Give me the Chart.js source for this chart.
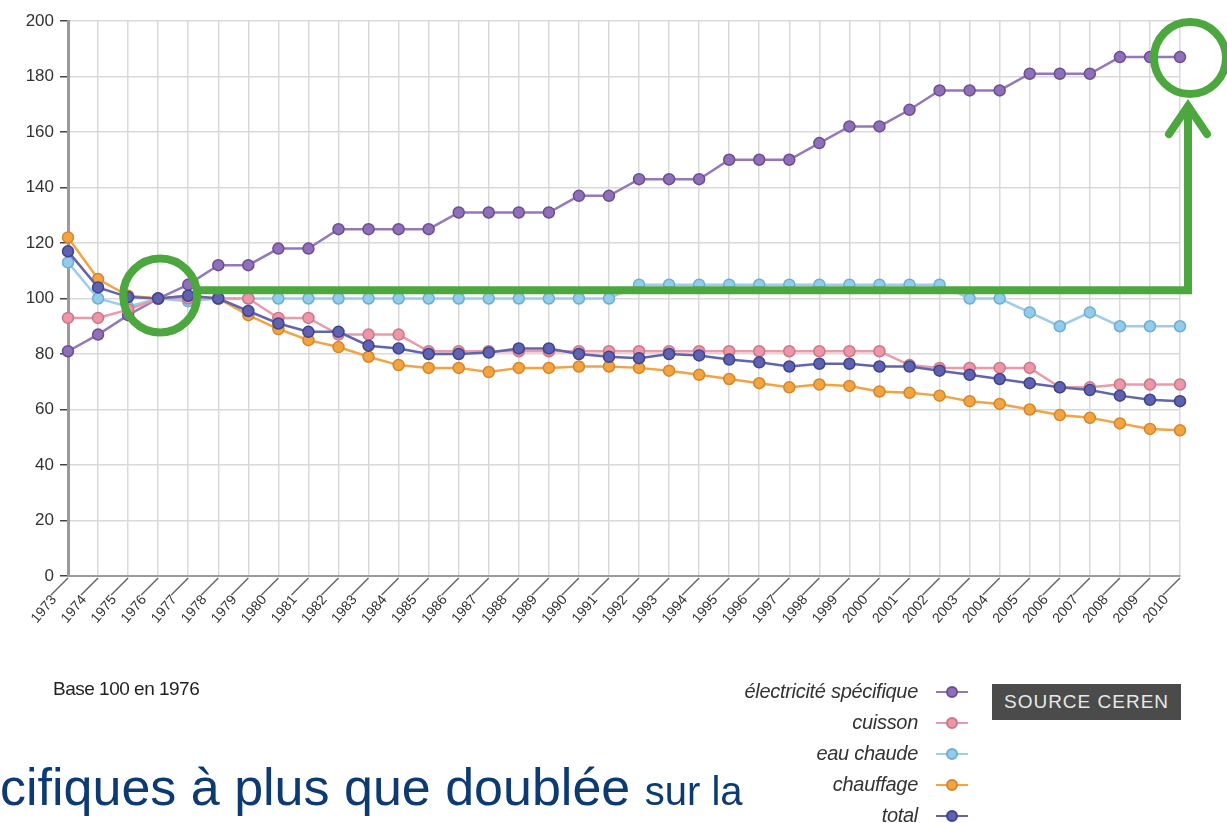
<!DOCTYPE html>
<html>
<head>
<meta charset="utf-8">
<script src="https://cdn.jsdelivr.net/npm/chart.js@4/dist/chart.umd.min.js"></script>
<style>
  body { margin:0; background:#fff; width:1227px; height:823px; overflow:hidden; position:relative;
         font-family:'Liberation Sans Narrow','Liberation Sans',Arial,sans-serif; }
  #chart { position:absolute; left:0; top:0; }
  #base { position:absolute; left:53px; top:678px; font-size:19px; color:#222; letter-spacing:-0.5px; }
  #legend { position:absolute; left:600px; top:676px; width:380px; }
  .row { height:31px; display:flex; justify-content:flex-end; align-items:center; }
  .row span { font-style:italic; font-size:20px; color:#333; margin-right:18px; letter-spacing:-0.3px; }
  .mk { position:relative; width:32px; height:12px; margin-right:12px; }
  .mk i { position:absolute; left:0; right:0; top:5px; height:2px; }
  .mk b { position:absolute; left:10px; top:0; width:8px; height:8px; border-radius:50%; border:2px solid; }
  #source { position:absolute; left:992px; top:684px; width:189px; height:36px; background:#4b4b4b;
            color:#e8e8e8; font-size:19px; line-height:36px; text-align:center; letter-spacing:1px;
            font-family:'Liberation Sans','DejaVu Sans',sans-serif; }
  #caption { position:absolute; left:0; top:757px; color:#0d3a72; font-family:'Liberation Sans',Arial,sans-serif;
             font-size:52px; white-space:nowrap; }
  #caption small { font-size:40px; }
</style>
</head>
<body>
<canvas id="chart" width="1227" height="823"></canvas>
<div id="base">Base 100 en 1976</div>
<div id="legend"></div>
<div id="source">SOURCE CEREN</div>
<div id="caption">cifiques à plus que doublée <small>sur la</small></div>
<script>
const years = ['1973','1974','1975','1976','1977','1978','1979','1980','1981','1982',
  '1983','1984','1985','1986','1987','1988','1989','1990','1991','1992',
  '1993','1994','1995','1996','1997','1998','1999','2000','2001','2002',
  '2003','2004','2005','2006','2007','2008','2009','2010'];

const elecSpecifique = [81, 87, 94, 100, 105, 112, 112, 118, 118, 125,
  125, 125, 125, 131, 131, 131, 131, 137, 137, 143,
  143, 143, 150, 150, 150, 156, 162, 162, 168, 175,
  175, 175, 181, 181, 181, 187, 187, 187];
const cuisson = [93, 93, 96, 100, 100, 100, 100, 93, 93, 87,
  87, 87, 81, 81, 81, 81, 81, 81, 81, 81,
  81, 81, 81, 81, 81, 81, 81, 81, 76, 75,
  75, 75, 75, 68, 68, 69, 69, 69];
const eauChaude = [113, 100, 97, 100, 99, 100, 100, 100, 100, 100,
  100, 100, 100, 100, 100, 100, 100, 100, 100, 105,
  105, 105, 105, 105, 105, 105, 105, 105, 105, 105,
  100, 100, 95, 90, 95, 90, 90, 90];
const chauffage = [122, 107, 101, 100, 101, 100, 94, 89, 85, 82.5,
  79, 76, 75, 75, 73.5, 75, 75, 75.5, 75.5, 75,
  74, 72.5, 71, 69.5, 68, 69, 68.5, 66.5, 66, 65,
  63, 62, 60, 58, 57, 55, 53, 52.5];
const total = [117, 104, 100.5, 100, 101, 100, 95.5, 91, 88, 88,
  83, 82, 80, 80, 80.5, 82, 82, 80, 79, 78.5,
  80, 79.5, 78, 77, 75.5, 76.5, 76.5, 75.5, 75.5, 74,
  72.5, 71, 69.5, 68, 67, 65, 63.5, 63];

const yTicks = [0, 20, 40, 60, 80, 100, 120, 140, 160, 180, 200];

const series = [
  { label: 'électricité spécifique', data: elecSpecifique, line: '#9478bb', fill: '#8f6fb8', edge: '#6a4e92', order: 3 },
  { label: 'cuisson', data: cuisson, line: '#eb9aaa', fill: '#ec96a8', edge: '#c9788a', order: 2 },
  { label: 'eau chaude', data: eauChaude, line: '#9ccdec', fill: '#93cbea', edge: '#6eaed2', order: 4 },
  { label: 'chauffage', data: chauffage, line: '#f2a444', fill: '#f2a440', edge: '#d4862a', order: 5 },
  { label: 'total', data: total, line: '#6065ae', fill: '#5f62b0', edge: '#3f438c', order: 1 }
];

// legend below the chart
const legendBox = document.getElementById('legend');
series.forEach(s => {
  const row = document.createElement('div');
  row.className = 'row';
  row.innerHTML = '<span>' + s.label + '</span><div class="mk"><i style="background:' + s.line +
    '"></i><b style="background:' + s.fill + ';border-color:' + s.edge + '"></b></div>';
  legendBox.appendChild(row);
});

// slanted tick marks under the x axis + green highlight marks
const extras = {
  id: 'extras',
  afterDraw(chart) {
    const { ctx, scales: { x, y } } = chart;
    const bottom = chart.chartArea.bottom;
    ctx.save();
    ctx.strokeStyle = '#666';
    ctx.lineWidth = 1.5;
    for (let i = 0; i < years.length; i++) {
      const px = x.getPixelForValue(i);
      ctx.beginPath();
      ctx.moveTo(px, bottom + 2);
      ctx.lineTo(px - 17, bottom + 19);
      ctx.stroke();
    }

    ctx.strokeStyle = '#4ca83e';
    ctx.lineWidth = 8;
    // circle around 1976
    const c1x = x.getPixelForValue(3) + 2, c1y = y.getPixelForValue(100) - 3;
    ctx.beginPath();
    ctx.arc(c1x, c1y, 37, 0, Math.PI * 2);
    ctx.stroke();
    // circle around 2010
    const c2x = x.getPixelForValue(years.length - 1) + 10, c2y = y.getPixelForValue(187) + 1;
    ctx.beginPath();
    ctx.arc(c2x, c2y, 36, 0, Math.PI * 2);
    ctx.stroke();
    // line and arrow
    const ly = y.getPixelForValue(103);
    const rx = x.getPixelForValue(years.length - 1) + 8;
    ctx.beginPath();
    ctx.moveTo(c1x + 37, ly);
    ctx.lineTo(rx, ly);
    ctx.lineTo(rx, c2y + 48);
    ctx.stroke();
    ctx.lineCap = 'round';
    ctx.beginPath();
    ctx.moveTo(rx - 19, c2y + 76);
    ctx.lineTo(rx, c2y + 48);
    ctx.lineTo(rx + 19, c2y + 76);
    ctx.stroke();
    ctx.restore();
  }
};

new Chart(document.getElementById('chart'), {
  type: 'line',
  data: {
    labels: years,
    datasets: series.map(s => ({
      label: s.label,
      data: s.data,
      borderColor: s.line,
      backgroundColor: s.fill,
      pointBackgroundColor: s.fill,
      pointBorderColor: s.edge,
      pointBorderWidth: 1.5,
      pointRadius: 5.5,
      borderWidth: 2.5,
      tension: 0,
      order: s.order
    }))
  },
  options: {
    responsive: false,
    animation: false,
    layout: { padding: { left: 0, right: 47, top: 21, bottom: 0 } },
    plugins: { legend: { display: false }, tooltip: { enabled: false } },
    scales: {
      x: {
        grid: { color: '#d9d9d9', lineWidth: 1.5, drawTicks: false },
        border: { color: '#9a9a9a', width: 2 },
        ticks: {
          autoSkip: false, minRotation: 50, maxRotation: 50,
          padding: 16, labelOffset: -14,
          color: '#333', font: { family: "'Liberation Sans Narrow','Liberation Sans',sans-serif", size: 14 }
        },
        afterFit: s => { s.height = 247; }
      },
      y: {
        min: 0, max: 200,
        afterBuildTicks: s => { s.ticks = yTicks.map(v => ({ value: v })); },
        grid: { color: '#d9d9d9', lineWidth: 1.5, tickColor: '#444', tickLength: 8, tickWidth: 1.5 },
        border: { color: '#9a9a9a', width: 3 },
        ticks: {
          padding: 6, color: '#333',
          font: { family: "'Liberation Sans Narrow','Liberation Sans',sans-serif", size: 17 }
        },
        afterFit: s => { s.width = 68; }
      }
    }
  },
  plugins: [extras]
});
</script>
</body>
</html>
